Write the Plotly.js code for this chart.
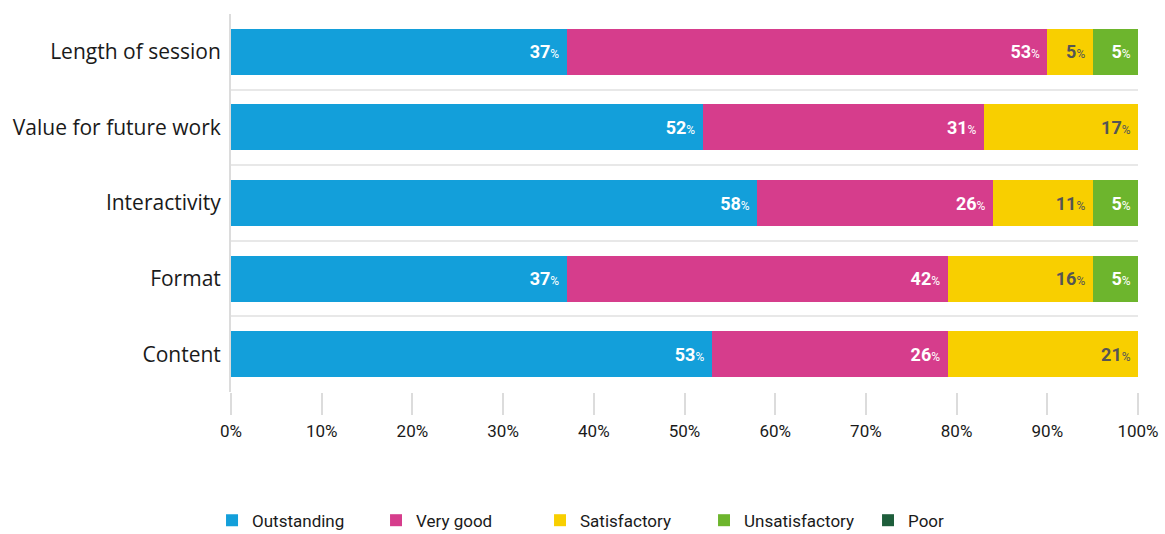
<!DOCTYPE html>
<html><head><meta charset="utf-8">
<script src="https://cdn.plot.ly/plotly-3.0.1.min.js"></script>
<style>html,body{margin:0;padding:0;background:#fff}#chart{width:1165px;height:534px}</style>
</head><body><div id="chart"></div>
<script>
const categories = ["Length of session","Value for future work","Interactivity","Format","Content"];
const seriesNames = ["Outstanding","Very good","Satisfactory","Unsatisfactory","Poor"];
const outstanding = [37,52,58,37,53];
const veryGood = [53,31,26,42,26];
const satisfactory = [5,17,11,16,21];
const unsatisfactory = [5,0,5,5,0];
const poor = [0,0,0,0,0];
const xTickVals = [0,10,20,30,40,50,60,70,80,90,100];
const xTickText = ["0%","10%","20%","30%","40%","50%","60%","70%","80%","90%","100%"];

const colors = ["#139fda","#d63d8c","#f8cf00","#6db52d","#1e5e3b"];
const textColors = ["#ffffff","#ffffff","#555555","#ffffff","#ffffff"];
const allSeries = [outstanding, veryGood, satisfactory, unsatisfactory, poor];

const labelFont = "Roboto, 'Liberation Sans Narrow', sans-serif";

const traces = allSeries.map((vals, i) => ({
  type: "bar",
  orientation: "h",
  name: seriesNames[i],
  y: categories,
  x: vals,
  marker: {color: colors[i], line: {width: 0}},
  text: vals.map(v => v > 0 ? `<b>${v}</b><span style="font-size:12px">%</span> ` : ""),
  textposition: "inside",
  insidetextanchor: "end",
  textangle: 0,
  constraintext: "none",
  cliponaxis: false,
  textfont: {family: labelFont, size: 18, color: textColors[i]},
  hoverinfo: "skip"
}));

const layout = {
  width: 1165, height: 534,
  margin: {l: 231, r: 27, t: 14, b: 142},
  barmode: "stack",
  bargap: 0.39,
  paper_bgcolor: "#fff", plot_bgcolor: "#fff",
  showlegend: true,
  legend: {
    orientation: "h", xref: "container", x: 0.182, xanchor: "left",
    yref: "container", y: 0.025, yanchor: "middle",
    entrywidth: 119, traceorder: "normal",
    font: {family: labelFont, size: 17, color: "#1a1a1a"},
    itemclick: false
  },
  xaxis: {
    range: [0, 100], fixedrange: true,
    tickvals: xTickVals, ticktext: xTickText,
    showgrid: false, zeroline: false, showline: false,
    ticks: "outside", ticklen: 22, tickwidth: 2, tickcolor: "#dcdcdc",
    tickfont: {family: labelFont, size: 17, color: "#1a1a1a"},
    ticklabelstandoff: 2
  },
  yaxis: {
    type: "category", categoryorder: "array", categoryarray: categories,
    autorange: "reversed", fixedrange: true,
    tickson: "boundaries", showgrid: true, gridcolor: "#e8e8e8", gridwidth: 2,
    ticks: "", showline: true, linecolor: "#dcdcdc", linewidth: 2,
    zeroline: false,
    tickfont: {family: "'Open Sans', sans-serif", size: 21, color: "#1a1a1a"},
    ticklabelstandoff: 4
  }
};

Plotly.newPlot("chart", traces, layout, {displayModeBar: false, staticPlot: true});
</script></body></html>
